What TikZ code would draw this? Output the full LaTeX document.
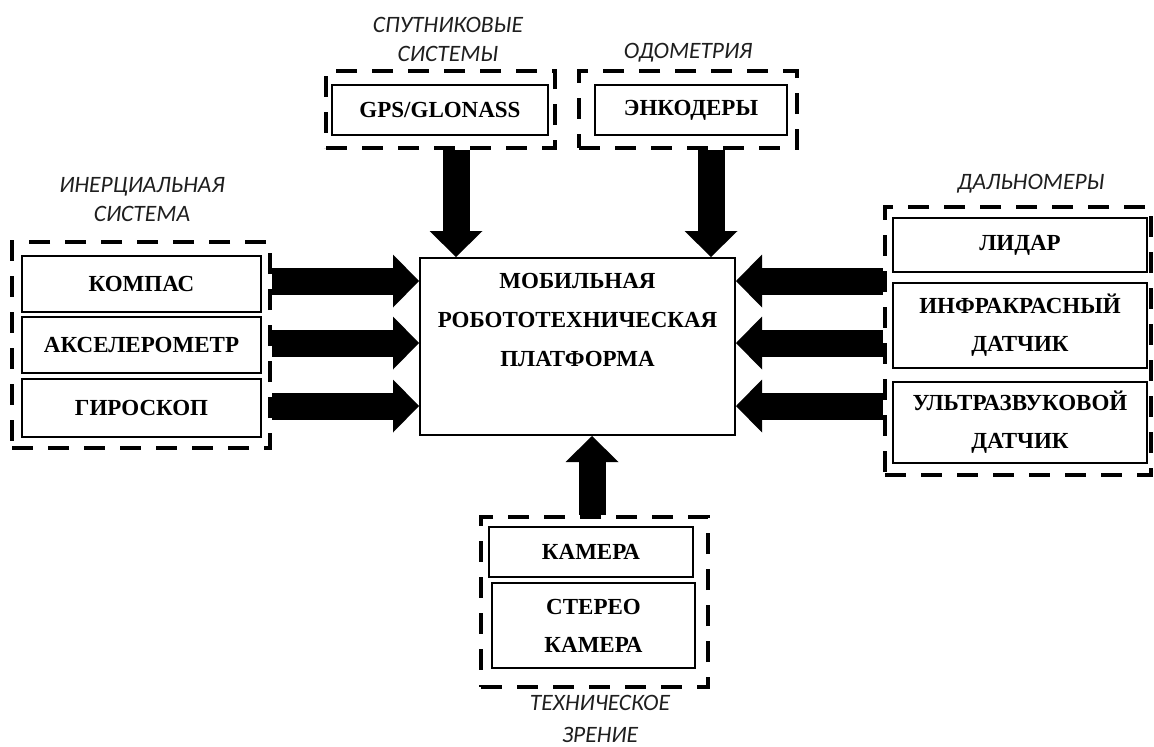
\documentclass[tikz,border=0pt]{standalone}
\usepackage{fontspec}
\setmainfont{Liberation Serif}
\newfontfamily\labfont{Carlito}
\usetikzlibrary{arrows.meta,calc}
\begin{document}
\begin{tikzpicture}[x=1pt,y=-1pt,
  sbox/.style={draw, line width=2pt, inner sep=0pt, align=center,
    font=\bfseries\fontsize{23}{38}\selectfont},
  grp/.style={draw, line width=4.5pt, dash pattern=on 21pt off 15pt, inner sep=0pt},
  lab/.style={inner sep=0pt, align=center, text=black!88,
    font=\labfont\itshape\fontsize{23.5}{29}\selectfont},
  bigarrow/.style={line width=27pt,
    -{Triangle[length=26pt 0 0, width=53pt 0 0, line width=0pt]}}]
\useasboundingbox (0,0) rectangle (1154,747);
\fill[white] (0,0) rectangle (1154,747);

% left group
\node[grp, minimum width=258pt, minimum height=206pt] (inert) at (141,345) {};
\node[sbox, minimum width=239pt, minimum height=56pt] (kompas) at (141.5,284) {КОМПАС};
\node[sbox, minimum width=239pt, minimum height=56pt] (accel) at (141.5,345) {АКСЕЛЕРОМЕТР};
\node[sbox, minimum width=239pt, minimum height=58pt] (gyro) at (141.5,408) {ГИРОСКОП};
\node[lab] (inertlab) at (142,200) {ИНЕРЦИАЛЬНАЯ\\СИСТЕМА};

% top groups
\node[grp, minimum width=229pt, minimum height=77pt] (sat) at (440.5,109.5) {};
\node[sbox, minimum width=216pt, minimum height=50pt] (gps) at (440,110) {GPS/GLONASS};
\node[lab] (satlab) at (448,39) {СПУТНИКОВЫЕ\\СИСТЕМЫ};
\node[grp, minimum width=218pt, minimum height=77pt] (odo) at (688,109.5) {};
\node[sbox, minimum width=192pt, minimum height=50pt] (enc) at (691,110) {ЭНКОДЕРЫ};
\node[lab] (odolab) at (688,53) {ОДОМЕТРИЯ};

% platform
\node[draw, line width=2pt, minimum width=315pt, minimum height=177pt, inner sep=0pt] (platform) at (577.5,346.5) {};
\node[inner sep=0pt, align=center, font=\bfseries\fontsize{23}{39}\selectfont] (platformtext) at (577.5,320) {МОБИЛЬНАЯ\\РОБОТОТЕХНИЧЕСКАЯ\\ПЛАТФОРМА};

% right group
\node[grp, minimum width=266pt, minimum height=268pt] (range) at (1018,341) {};
\node[sbox, minimum width=254pt, minimum height=54pt] (lidar) at (1020,245) {ЛИДАР};
\node[sbox, minimum width=254pt, minimum height=85pt] (ir) at (1020,325.5) {ИНФРАКРАСНЫЙ\\ДАТЧИК};
\node[sbox, minimum width=254pt, minimum height=81pt] (us) at (1020,422.5) {УЛЬТРАЗВУКОВОЙ\\ДАТЧИК};
\node[lab] (rangelab) at (1031,184) {ДАЛЬНОМЕРЫ};

% bottom group
\node[grp, minimum width=227pt, minimum height=170pt] (vision) at (594.5,602) {};
\node[sbox, minimum width=204pt, minimum height=50pt] (cam) at (591,552) {КАМЕРА};
\node[sbox, minimum width=203pt, minimum height=85pt] (stereo) at (593.5,625.5) {СТЕРЕО\\КАМЕРА};
\node[lab, font=\labfont\itshape\fontsize{23.5}{32}\selectfont] (visionlab) at (600,719) {ТЕХНИЧЕСКОЕ\\ЗРЕНИЕ};

% arrows
\coordinate (gpsx) at (456,0);
\coordinate (encx) at (711,0);
\coordinate (visx) at (592,0);
\coordinate (row1) at (0,281);
\coordinate (row2) at (0,343);
\coordinate (row3) at (0,406);
\draw[bigarrow] (gpsx |- sat.south) -- (gpsx |- platform.north);
\draw[bigarrow] (encx |- odo.south) -- (encx |- platform.north);
\draw[bigarrow] (visx |- vision.north) -- (visx |- platform.south);
\draw[bigarrow] (row1 -| inert.east) -- (row1 -| platform.west);
\draw[bigarrow] (row2 -| inert.east) -- (row2 -| platform.west);
\draw[bigarrow] (row3 -| inert.east) -- (row3 -| platform.west);
\draw[bigarrow] (row1 -| range.west) -- (row1 -| platform.east);
\draw[bigarrow] (row2 -| range.west) -- (row2 -| platform.east);
\draw[bigarrow] (row3 -| range.west) -- (row3 -| platform.east);
\end{tikzpicture}
\end{document}
